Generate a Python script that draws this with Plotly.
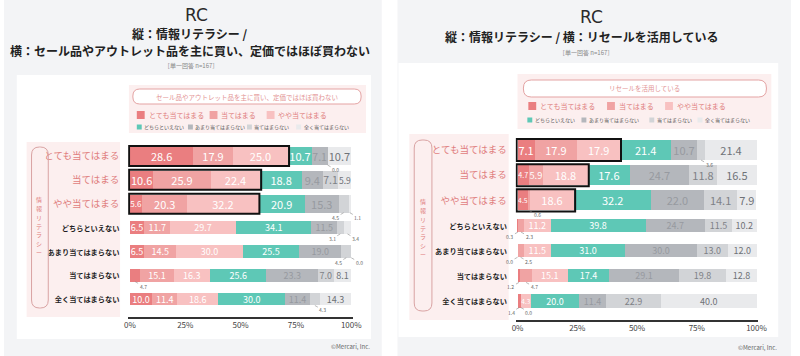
import plotly.graph_objects as go

# ---------------- data ----------------
CATEGORIES = ["とても当てはまる", "当てはまる", "やや当てはまる", "どちらといえない",
              "あまり当てはまらない", "当てはまらない", "全く当てはまらない"]
ROWS = ["とても当てはまる", "当てはまる", "やや当てはまる", "どちらといえない",
        "あまり当てはまらない", "当てはまらない", "全く当てはまらない"]
X_TICKS = [0, 25, 50, 75, 100]
X_TICK_LABELS = ["0%", "25%", "50%", "75%", "100%"]

LEFT_TITLE_1 = "縦：情報リテラシー /"
LEFT_TITLE_2 = "横：セール品やアウトレット品を主に買い、定価ではほぼ買わない"
LEFT_PILL = "セール品やアウトレット品を主に買い、定価ではほぼ買わない"
RIGHT_TITLE = "縦：情報リテラシー / 横：リセールを活用している"
RIGHT_PILL = "リセールを活用している"
SUBTITLE = "［単一回答 n=167］"
AXIS_GROUP = "情報リテラシー"
COPYRIGHT = "©Mercari, Inc."
LOGO = "RC"

LEFT_VERY = [28.6, 10.6, 5.6, 6.5, 6.5, 4.7, 10.0]
LEFT_YES = [17.9, 25.9, 20.3, 11.7, 14.5, 15.1, 11.4]
LEFT_SOMEWHAT = [25.0, 22.4, 32.2, 29.7, 30.0, 16.3, 18.6]
LEFT_NEUTRAL = [10.7, 18.8, 20.9, 34.1, 25.5, 25.6, 30.0]
LEFT_RATHER_NOT = [7.1, 9.4, 15.3, 11.5, 19.0, 23.3, 11.4]
LEFT_NOT = [0.0, 7.1, 4.5, 3.1, 4.5, 7.0, 4.3]
LEFT_NOT_AT_ALL = [10.7, 5.9, 1.1, 3.4, 0.0, 8.1, 14.3]

RIGHT_VERY = [7.1, 4.7, 4.5, 0.3, 0.0, 1.2, 1.4]
RIGHT_YES = [17.9, 5.9, 0.6, 2.3, 2.5, 4.7, 0.0]
RIGHT_SOMEWHAT = [17.9, 18.8, 18.6, 11.2, 11.5, 15.1, 4.3]
RIGHT_NEUTRAL = [21.4, 17.6, 32.2, 39.8, 31.0, 17.4, 20.0]
RIGHT_RATHER_NOT = [10.7, 24.7, 22.0, 24.7, 30.0, 29.1, 11.4]
RIGHT_NOT = [3.6, 11.8, 14.1, 11.5, 13.0, 19.8, 22.9]
RIGHT_NOT_AT_ALL = [21.4, 16.5, 7.9, 10.2, 12.0, 12.8, 40.0]

# labels shown below the bar (row, series)
LEFT_OUTSIDE = [(0, 5), (2, 5), (2, 6), (3, 5), (3, 6), (4, 5), (4, 6), (5, 0), (6, 5)]
RIGHT_OUTSIDE = [(0, 5), (2, 1), (3, 0), (3, 1), (4, 0), (4, 1), (5, 0), (5, 1), (6, 0), (6, 1)]
HIGHLIGHT_ROWS = [0, 1, 2]

LEFT_SERIES = [LEFT_VERY, LEFT_YES, LEFT_SOMEWHAT, LEFT_NEUTRAL, LEFT_RATHER_NOT, LEFT_NOT, LEFT_NOT_AT_ALL]
RIGHT_SERIES = [RIGHT_VERY, RIGHT_YES, RIGHT_SOMEWHAT, RIGHT_NEUTRAL, RIGHT_RATHER_NOT, RIGHT_NOT, RIGHT_NOT_AT_ALL]

# ---------------- style ----------------
W, H = 800, 356
FONT = "Noto Sans CJK JP"
COLORS = ["#EA7E80", "#F0A3A3", "#F8C1C1", "#5EC8B6", "#B4B7BC", "#D2D4D7", "#E9EAEC"]
TEXT_COLORS = ["#FFFFFF", "#FFFFFF", "#FFFFFF", "#FFFFFF", "#979AA0", "#7E8186", "#6F7277"]
SALMON = "#E07D7D"
PINK_BG = "#FCEFEF"
PANEL_BG = "#F3F4F6"


def px(x):
    return x / W


def py(y):
    return 1 - y / H


shapes = []
annotations = []


def rect(x0, y0, x1, y1, fill, line=None, lw=0, layer="below"):
    shapes.append(dict(type="rect", xref="paper", yref="paper",
                       x0=px(x0), x1=px(x1), y0=py(y1), y1=py(y0),
                       fillcolor=fill, line=dict(width=lw, color=line or fill), layer=layer))


def rrect(x0, y0, x1, y1, r, fill, line, lw, layer="above"):
    p = (f"M {px(x0 + r)},{py(y0)} L {px(x1 - r)},{py(y0)} Q {px(x1)},{py(y0)} {px(x1)},{py(y0 + r)} "
         f"L {px(x1)},{py(y1 - r)} Q {px(x1)},{py(y1)} {px(x1 - r)},{py(y1)} "
         f"L {px(x0 + r)},{py(y1)} Q {px(x0)},{py(y1)} {px(x0)},{py(y1 - r)} "
         f"L {px(x0)},{py(y0 + r)} Q {px(x0)},{py(y0)} {px(x0 + r)},{py(y0)} Z")
    shapes.append(dict(type="path", xref="paper", yref="paper", path=p,
                       fillcolor=fill, line=dict(width=lw, color=line), layer=layer))


def text(x, y, t, size, color="#222", anchor="center", bold=False, family=FONT):
    annotations.append(dict(x=px(x), y=py(y), xref="paper", yref="paper", text=(f"<b>{t}</b>" if bold else t),
                            showarrow=False, xanchor=anchor, yanchor="middle", borderpad=0,
                            font=dict(size=size, color=color, family=family)))


def vtext(x, yc, t, size, color, step):
    n = len(t)
    for i, ch in enumerate(t):
        text(x, yc + (i - (n - 1) / 2) * step, ch, size, color)


# panel backgrounds & cards
rect(0, 0, 384, H, PANEL_BG)
rect(400, 0, W, H, PANEL_BG)
rect(13, 75, 373, 339, "#FFFFFF")
rect(401, 63, 787, 337, "#FFFFFF")

fig = go.Figure()

panels = [
    dict(series=LEFT_SERIES, outside=LEFT_OUTSIDE, xa="x", ya="y", xd=(126.2, 354.8), yd=(142.9, 316.9),
         widths=[0.76, 0.76, 0.76, 0.54, 0.54, 0.54, 0.54]),
    dict(series=RIGHT_SERIES, outside=RIGHT_OUTSIDE, xa="x2", ya="y2", xd=(520.1, 766.9), yd=(136.2, 319.9),
         widths=[0.8, 0.8, 0.8, 0.52, 0.52, 0.52, 0.52]),
]
BASE_SIZES = [11, 11, 11, 9, 9, 9, 9]

for p in panels:
    outside = set(p["outside"])
    scale = (p["xd"][1] - p["xd"][0]) / 101.6
    for k, vals in enumerate(p["series"]):
        texts, sizes = [], []
        for r, v in enumerate(vals):
            lab = f"{v:.1f}"
            texts.append("" if (r, k) in outside else lab)
            em = 0.56 * (len(lab) - 1) + 0.26
            sizes.append(max(5, min(BASE_SIZES[r], (v * scale - 1.5) / em)))
        fig.add_trace(go.Bar(
            y=ROWS, x=vals, orientation="h", name=CATEGORIES[k],
            marker=dict(color=COLORS[k], line=dict(width=0)), width=p["widths"],
            text=texts, textposition="inside", insidetextanchor="middle", textangle=0,
            constraintext="none",
            textfont=dict(color=TEXT_COLORS[k], size=sizes, family=FONT),
            xaxis=p["xa"], yaxis=p["ya"], showlegend=False, hoverinfo="skip"))
    # outside labels
    by_row = {}
    for (r, k) in p["outside"]:
        by_row.setdefault(r, []).append(k)
    for r, ks in by_row.items():
        for j, k in enumerate(sorted(ks)):
            start = sum(p["series"][q][r] for q in range(k))
            v = p["series"][k][r]
            if len(ks) == 1:
                ax = 8
            else:
                ax = -8 if j == 0 else 8
            annotations.append(dict(
                x=start + v / 2, y=r + p["widths"][r] / 2, xref=p["xa"], yref=p["ya"],
                text=f"{v:.1f}", showarrow=True, arrowhead=0, arrowwidth=0.6, arrowcolor="#8A8A8A",
                ax=ax, ay=4.5, standoff=0, startstandoff=0,
                font=dict(size=5, color="#666", family=FONT)))
    # highlight boxes
    for r in HIGHLIGHT_ROWS:
        tot = sum(p["series"][q][r] for q in range(3))
        hw = p["widths"][r] / 2 + 0.04
        shapes.append(dict(type="rect", xref=p["xa"], yref=p["ya"], x0=-0.4, x1=tot + 0.4,
                           y0=r - hw, y1=r + hw, line=dict(color="#111", width=2), layer="above"))

# y tick labels (colored for top three)
ticktext = []
for i, t in enumerate(ROWS):
    if i in HIGHLIGHT_ROWS:
        ticktext.append(f"<span style='color:{SALMON};font-size:9.5px'>{t}</span>")
    else:
        ticktext.append(f"<span style='color:#1E1E1E;font-size:7.2px'><b>{t}</b></span>")

layout_axes = {}
for idx, p in enumerate(panels):
    sx = "" if idx == 0 else "2"
    layout_axes[f"xaxis{sx}"] = dict(
        domain=[px(p["xd"][0]), px(p["xd"][1])], range=[-0.8, 100.8], anchor=f"y{sx}",
        tickvals=X_TICKS, ticktext=X_TICK_LABELS, showgrid=False, zeroline=False,
        showline=True, linecolor="#333", linewidth=1.5, ticks="",
        tickfont=dict(size=8, color="#444", family=FONT), fixedrange=True)
    layout_axes[f"yaxis{sx}"] = dict(
        domain=[py(p["yd"][1]), py(p["yd"][0])], range=[6.75, -0.55], anchor=f"x{sx}",
        type="category", categoryorder="array", categoryarray=ROWS,
        tickvals=ROWS, ticktext=ticktext, showgrid=False, zeroline=False, showline=False,
        ticks="outside", ticklen=6, tickcolor="rgba(0,0,0,0)",
        tickfont=dict(size=9, family=FONT), fixedrange=True)

# ---- left decorations ----
rect(127, 85, 368, 133, PINK_BG)
rrect(131, 89, 363, 104, 7, "#FFFFFF", "#E4A3A3", 1)
text(247, 96.5, LEFT_PILL, 6.5, "#E39494")
rect(23, 142, 118, 317, PINK_BG)
rrect(28, 147, 45, 308, 8, "rgba(0,0,0,0)", "#D9A3A3", 1)
vtext(36, 226, AXIS_GROUP, 6, SALMON, 8.8)

# ---- right decorations ----
rect(522, 74, 780, 129, PINK_BG)
rrect(528, 80, 775, 97, 8, "#FFFFFF", "#E4A3A3", 1)
text(651, 88.5, RIGHT_PILL, 6.5, "#E39494")
rect(412, 134, 513, 320, PINK_BG)
rrect(417, 140, 435, 311, 8, "rgba(0,0,0,0)", "#D9A3A3", 1)
vtext(426, 228, AXIS_GROUP, 6, SALMON, 8.8)

# legends (manual, two rows)
LEGEND_POS = [
    dict(row1_y=115, row1_x=[135, 209, 267], row2_y=127, row2_x=[135, 187, 247, 297]),
    dict(row1_y=106, row1_x=[533, 613, 672], row2_y=120, row2_x=[532, 587, 656, 705]),
]
for lp in LEGEND_POS:
    for j, x in enumerate(lp["row1_x"]):
        rect(x, lp["row1_y"] - 4, x + 8, lp["row1_y"] + 4, COLORS[j], layer="above")
        text(x + 11, lp["row1_y"], CATEGORIES[j], 7, SALMON, anchor="left")
    for j, x in enumerate(lp["row2_x"]):
        rect(x, lp["row2_y"] - 2.5, x + 5, lp["row2_y"] + 2.5, COLORS[3 + j], layer="above")
        text(x + 6.5, lp["row2_y"], CATEGORIES[3 + j], 5, "#555", anchor="left")

# titles
text(196, 15, LOGO, 17, "#2A2A2A", family="DejaVu Sans")
text(189, 33, LEFT_TITLE_1, 12, "#222", bold=True)
text(189, 50, LEFT_TITLE_2, 12, "#222", bold=True)
text(190, 65, SUBTITLE, 6, "#888")
text(597, 17, LOGO, 17, "#2A2A2A", family="DejaVu Sans")
text(588, 37, RIGHT_TITLE, 12, "#222", bold=True)
text(592, 53, SUBTITLE, 6, "#888")
text(373, 346, COPYRIGHT, 6, "#666", anchor="right")
text(787, 347, COPYRIGHT, 6, "#666", anchor="right")

fig.update_layout(
    width=W, height=H, margin=dict(l=0, r=0, t=0, b=0),
    paper_bgcolor="#FFFFFF", plot_bgcolor="rgba(0,0,0,0)",
    barmode="stack", bargap=0.3, font=dict(family=FONT),
    shapes=shapes, annotations=annotations, **layout_axes)

fig.write_html("out.html", config={"displayModeBar": False},
               post_script="document.body.style.margin='0';document.body.style.overflow='hidden';")
